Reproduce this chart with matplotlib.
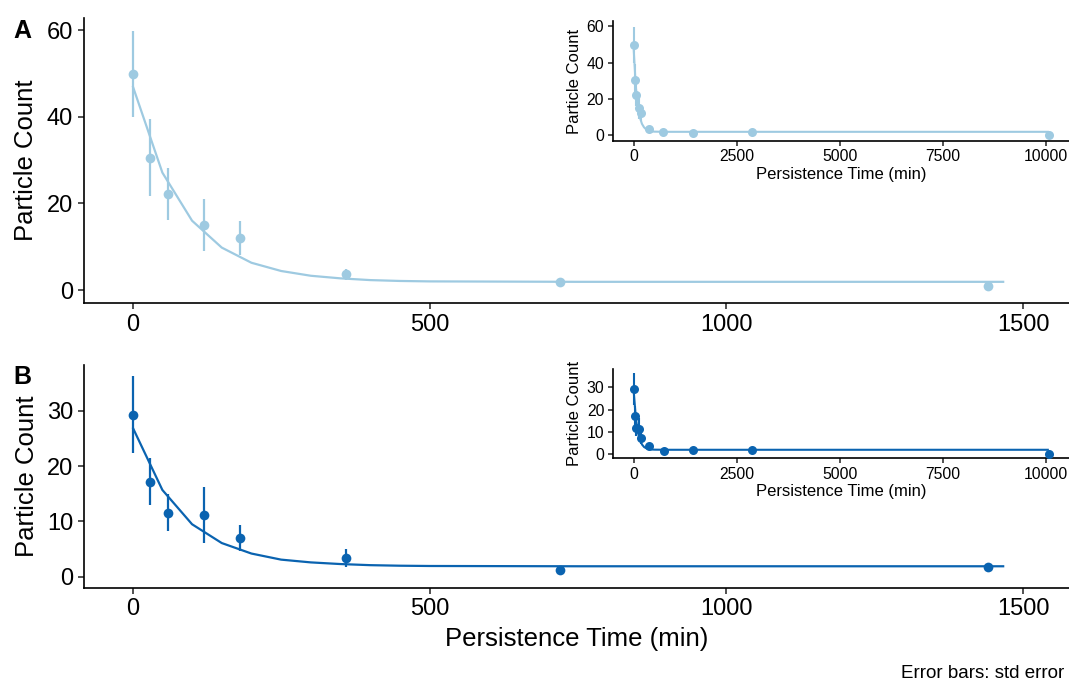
import matplotlib
matplotlib.use("Agg")
import matplotlib.pyplot as plt
import numpy as np

plt.rcParams['font.family'] = ['Liberation Sans', 'DejaVu Sans']

# ---- data ----
time_min = [0, 30, 60, 120, 180, 360, 720, 1440, 2880, 10080]

count_a = [49.8, 30.5, 22.2, 15.1, 12.0, 3.6, 1.9, 1.0, 2.0, 0.3]
se_a    = [9.9, 8.9, 6.0, 6.0, 4.0, 1.3, 0.4, 0.3, 0.6, 0.2]

count_b = [29.3, 17.2, 11.6, 11.2, 7.0, 3.4, 1.3, 1.8, 1.7, 0.1]
se_b    = [7.0, 4.3, 3.4, 5.1, 2.3, 1.6, 0.4, 0.3, 0.4, 0.1]

fit_time = [0, 50, 100, 150, 200, 250, 300, 350, 400, 450, 500, 750, 1000, 1468,
            2500, 5000, 7500, 10080]
fit_a = [47.1, 27.1, 16.0, 9.8, 6.3, 4.4, 3.3, 2.7, 2.3, 2.1, 2.0, 1.9, 1.9, 1.9,
         1.9, 1.9, 1.9, 1.9]
fit_b = [27.0, 15.7, 9.5, 6.1, 4.2, 3.1, 2.6, 2.3, 2.1, 2.0, 1.95, 1.9, 1.9, 1.9,
         1.9, 1.9, 1.9, 1.9]

main_xticks = [0, 500, 1000, 1500]
inset_xticks = [0, 2500, 5000, 7500, 10000]
ticks_a = [0, 20, 40, 60]
ticks_b = [0, 10, 20, 30]

color_a = '#9ecae1'
color_b = '#0a63b0'

W, H = 1069, 683
fig = plt.figure(figsize=(W / 100, H / 100), dpi=100)


def px_axes(left, top, right, bottom):
    return fig.add_axes([left / W, 1 - bottom / H, (right - left) / W, (bottom - top) / H])


def style(ax, tick_fs, lw=1.2, tlen=4.0, pad=3):
    for s in ['top', 'right']:
        ax.spines[s].set_visible(False)
    for s in ['left', 'bottom']:
        ax.spines[s].set_linewidth(lw)
        ax.spines[s].set_color('black')
    ax.tick_params(axis='both', which='major', labelsize=tick_fs, length=tlen,
                   width=lw, color='#333333', labelcolor='black', pad=pad)
    ax.set_facecolor('white')


def draw(ax, y, se, fit, color, main, ms, lw):
    t = np.array(time_min)
    y = np.array(y)
    se = np.array(se)
    ft = np.array(fit_time)
    fv = np.array(fit)
    if main:
        keep = t <= 1440
        t, y, se = t[keep], y[keep], se[keep]
        fk = ft <= 1468
        ft, fv = ft[fk], fv[fk]
    ax.plot(ft, fv, color=color, lw=lw, zorder=2, solid_capstyle='butt')
    ax.errorbar(t, y, yerr=se, fmt='none', ecolor=color, elinewidth=lw, capsize=0, zorder=3)
    ax.plot(t, y, 'o', color=color, ms=ms, mec='none', zorder=4)


# Main A
axA = px_axes(84, 18.3, 1069, 303)
draw(axA, count_a, se_a, fit_a, color_a, True, 7, 1.6)
axA.set_xlim(-82, 1577)
axA.set_ylim(-2.985, 62.7)
axA.set_xticks(main_xticks)
axA.set_yticks(ticks_a)
style(axA, 17, tlen=4.3, pad=3.5)
axA.set_ylabel('Particle Count', fontsize=18.5, labelpad=6)

# Main B
axB = px_axes(84, 365, 1069, 587.5)
draw(axB, count_b, se_b, fit_b, color_b, True, 7, 1.6)
axB.set_xlim(-82, 1577)
axB.set_ylim(-1.94, 38.3)
axB.set_xticks(main_xticks)
axB.set_yticks(ticks_b)
style(axB, 17, tlen=4.3, pad=3.5)
axB.set_ylabel('Particle Count', fontsize=18.5, labelpad=6)
axB.set_xlabel('Persistence Time (min)', fontsize=18.5, labelpad=5)

# Inset A
inA = px_axes(612.5, 21.3, 1069.6, 140.7)
draw(inA, count_a, se_a, fit_a, color_a, False, 6.5, 1.5)
inA.set_xlim(-515, 10584)
inA.set_ylim(-2.985, 62.7)
inA.set_xticks(inset_xticks)
inA.set_yticks(ticks_a)
style(inA, 11.3, lw=1.2, tlen=3.5, pad=2.5)
inA.set_ylabel('Particle Count', fontsize=12, labelpad=3)
inA.set_xlabel('Persistence Time (min)', fontsize=12, labelpad=2)

# Inset B
inB = px_axes(612.7, 369, 1069.6, 458.3)
draw(inB, count_b, se_b, fit_b, color_b, False, 6.5, 1.5)
inB.set_xlim(-515, 10584)
inB.set_ylim(-1.94, 38.3)
inB.set_xticks(inset_xticks)
inB.set_yticks(ticks_b)
style(inB, 11.3, lw=1.2, tlen=3.5, pad=2.5)
inB.set_ylabel('Particle Count', fontsize=12, labelpad=3)
inB.set_xlabel('Persistence Time (min)', fontsize=12, labelpad=2)

# Panel letters
fig.text(22 / W, 1 - 31 / H, 'A', fontsize=18, fontweight='bold', ha='center', va='center')
fig.text(22 / W, 1 - 377 / H, 'B', fontsize=18, fontweight='bold', ha='center', va='center')

# caption
fig.text(1064 / W, 1 - 674 / H, 'Error bars: std error', fontsize=13.5, ha='right', va='center')

fig.savefig('out.png', dpi=100, facecolor='white')
